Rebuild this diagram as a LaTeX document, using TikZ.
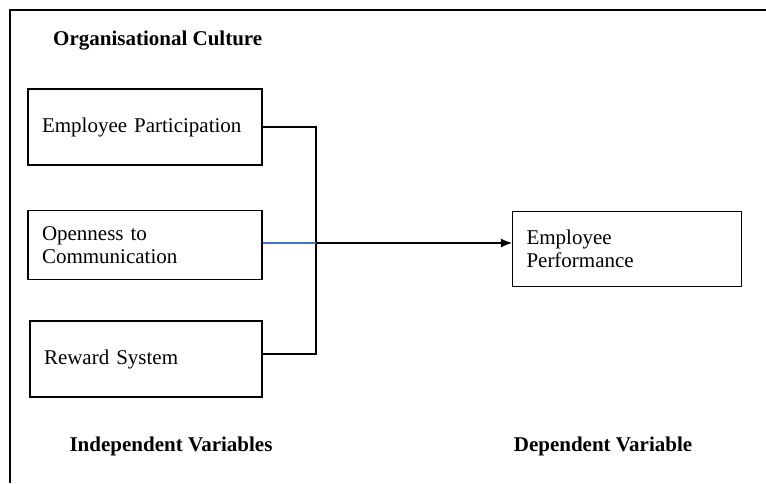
\documentclass[tikz,border=0pt]{standalone}
\usepackage{fontspec}
\setmainfont{Liberation Serif}
\usepackage{xcolor}
\usetikzlibrary{arrows.meta}
\definecolor{linkblue}{RGB}{68,114,196}

\begin{document}
\begin{tikzpicture}[x=1pt,y=-1pt]
\tikzset{varbox/.style={draw,line width=1.1pt,align=left,inner xsep=14pt,inner ysep=0pt}}
\tikzset{heading/.style={font=\bfseries}}
\tikzset{link/.style={line width=1.1pt}}

\fontsize{21}{23}\selectfont

\useasboundingbox (0,0) rectangle (766,483);
\draw[line width=1.4pt] (766,10) -- (10,10) -- (10,483);

\node[heading,anchor=west] (culture) at (46,41) {Organisational Culture};

\node[varbox,minimum width=234pt,minimum height=76pt,text width=206pt] (part) at (145,127) {Employee Participation};
\node[varbox,minimum width=234pt,minimum height=69pt,text width=206pt] (open) at (145,245) {Openness to\\Communication};
\node[varbox,minimum width=232pt,minimum height=76pt,text width=204pt] (reward) at (146,359) {Reward System};
\node[varbox,minimum width=229pt,minimum height=75pt,text width=201pt] (perf) at (627,249) {Employee\\Performance};

\coordinate (bend) at (316,127);
\coordinate (join) at (316,243);

\draw[link] (part.east) -- (bend) |- ([yshift=5pt]reward.east);
\draw[link,linkblue] (open.east |- join) -- (join);
\draw[link,-{Latex[length=11pt,width=9pt]}] (join) -- (join -| perf.west);

\node[heading] (indep) at (171,446) {Independent Variables};
\node[heading] (dep) at (603,446) {Dependent Variable};

\end{tikzpicture}
\end{document}
